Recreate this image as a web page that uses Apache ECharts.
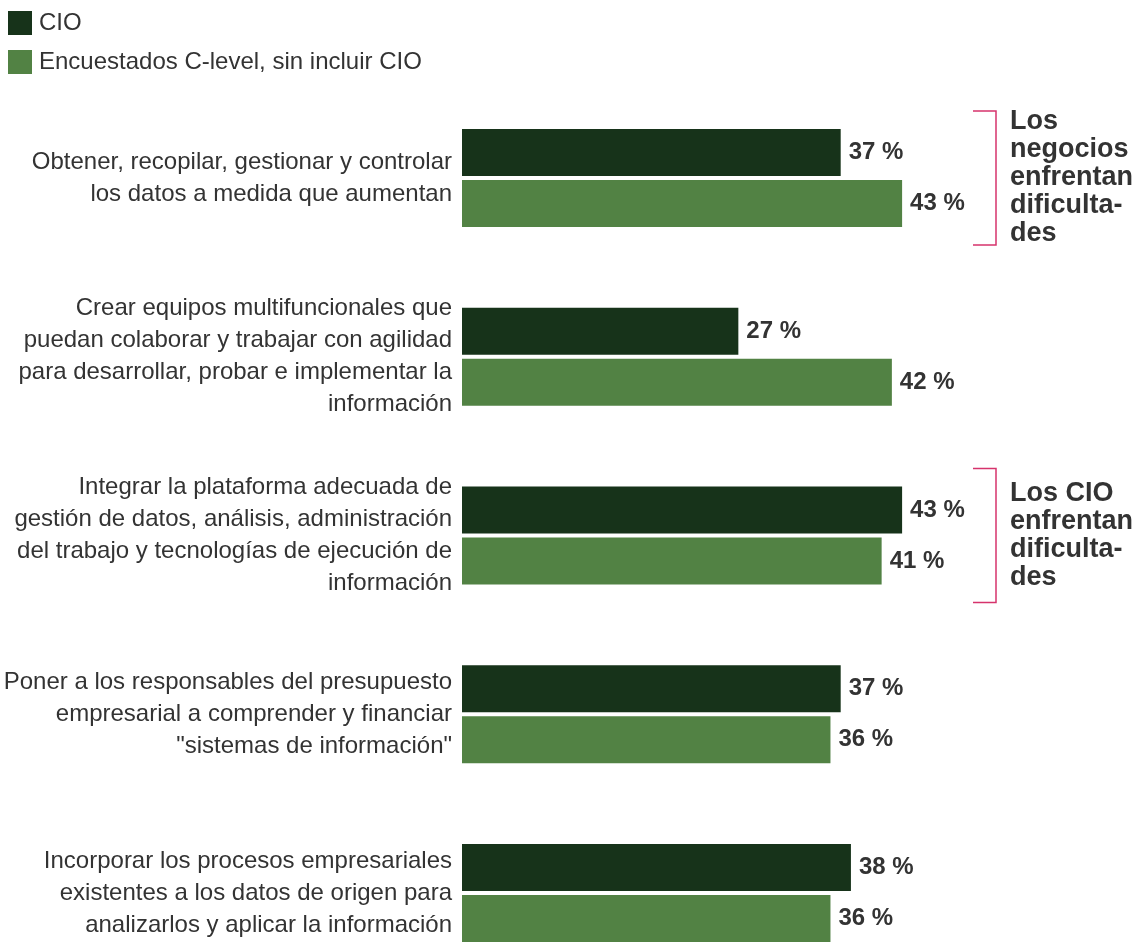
<!DOCTYPE html>
<html>
<head>
<meta charset="utf-8">
<script src="https://cdn.jsdelivr.net/npm/echarts@6/dist/echarts.min.js"></script>
<style>
	html,body{margin:0;padding:0;background:#fff;}
	#chart{width:1145px;height:942px;}
</style>
</head>
<body>
<div id="chart"></div>
<script>
	// datos del gráfico
	var categories = [
		'Obtener, recopilar, gestionar y controlar\nlos datos a medida que aumentan',
		'Crear equipos multifuncionales que\npuedan colaborar y trabajar con agilidad\npara desarrollar, probar e implementar la\ninformación',
		'Integrar la plataforma adecuada de\ngestión de datos, análisis, administración\ndel trabajo y tecnologías de ejecución de\ninformación',
		'Poner a los responsables del presupuesto\nempresarial a comprender y financiar\n"sistemas de información"',
		'Incorporar los procesos empresariales\nexistentes a los datos de origen para\nanalizarlos y aplicar la información'
	];
	var seriesNames = ['CIO', 'Encuestados C-level, sin incluir CIO'];
	var cioValues = [37, 27, 43, 37, 38];
	var cLevelValues = [43, 42, 41, 36, 36];
	// notas con corchete a la derecha (índice de categoría)
	var noteCats = [0, 2];
	var noteTexts = ['Los\nnegocios\nenfrentan\ndificulta-\ndes', 'Los CIO\nenfrentan\ndificulta-\ndes'];

	var FONT = '"Liberation Sans", Arial, Helvetica, sans-serif';
	var colors = ['#17331a', '#528244'];

	var myChart = echarts.init(document.getElementById('chart'));

	var labelStyle = {
		show: true,
		position: 'right',
		distance: 8,
		formatter: '{c} %',
		color: '#333',
		fontFamily: FONT,
		fontWeight: 'bold',
		fontSize: 24
	};

	var option = {
		backgroundColor: '#fff',
		animation: false,
		color: colors,
		textStyle: {fontFamily: FONT},
		legend: {
			orient: 'vertical',
			left: 8,
			top: 11,
			padding: 0,
			itemWidth: 24,
			itemHeight: 24,
			itemGap: 15,
			icon: 'rect',
			data: seriesNames,
			textStyle: {
				color: '#333',
				fontSize: 24,
				fontFamily: FONT,
				padding: [0, 0, 0, 2]
			}
		},
		grid: {
			left: 462,
			top: 88.6,
			width: 511.75,
			height: 893.75,
			outerBoundsMode: 'none',
			containLabel: false
		},
		xAxis: {
			type: 'value',
			min: 0,
			max: 50,
			show: false
		},
		yAxis: {
			type: 'category',
			inverse: true,
			data: categories,
			axisLine: {show: false},
			axisTick: {show: false},
			splitLine: {show: false},
			axisLabel: {
				color: '#333',
				fontSize: 24,
				lineHeight: 32,
				fontFamily: FONT,
				margin: 10,
				align: 'right'
			}
		},
		series: [
			{
				name: seriesNames[0],
				type: 'bar',
				data: cioValues,
				barWidth: 47,
				barGap: '8.5%',
				label: labelStyle
			},
			{
				name: seriesNames[1],
				type: 'bar',
				data: cLevelValues,
				barWidth: 47,
				label: labelStyle
			}
		]
	};
	myChart.setOption(option);

	// corchetes y textos de las notas
	var y0 = myChart.convertToPixel({yAxisIndex: 0}, 0);
	var y1 = myChart.convertToPixel({yAxisIndex: 0}, 1);
	var band = Math.abs(y1 - y0);
	var half = band * 0.375;
	var graphics = [];
	noteCats.forEach(function (cat, i) {
		var cy = myChart.convertToPixel({yAxisIndex: 0}, cat);
		graphics.push({
			type: 'polyline',
			shape: {points: [[973, cy - half], [996, cy - half], [996, cy + half], [973, cy + half]]},
			style: {stroke: '#d6336c', lineWidth: 1.5, fill: null}
		});
		graphics.push({
			type: 'text',
			x: 1010,
			y: cy,
			style: {
				text: noteTexts[i],
				fill: '#333',
				font: 'bold 27px ' + FONT,
				lineHeight: 28,
				verticalAlign: 'middle',
				align: 'left'
			}
		});
	});
	myChart.setOption({graphic: graphics});
</script>
</body>
</html>
